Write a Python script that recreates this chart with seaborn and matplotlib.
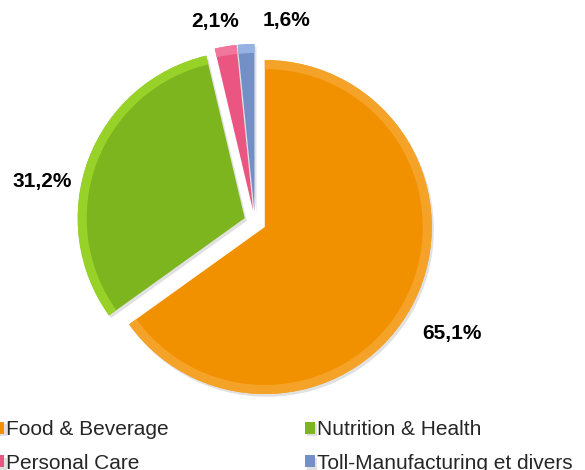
import matplotlib
matplotlib.use("Agg")
import matplotlib.pyplot as plt
import matplotlib.patheffects as pe
from matplotlib.patches import Wedge
import seaborn as sns

# data
categories = ["Food & Beverage", "Nutrition & Health", "Personal Care", "Toll-Manufacturing et divers"]
shares = [65.1, 31.2, 2.1, 1.6]
colors = ["#F29100", "#7DB51E", "#EA5581", "#7390C6"]
rims = ["#F6A630", "#9ED82C", "#F27CA2", "#9DB9E8"]

sns.set_theme(style="white")
plt.rcParams["font.family"] = ["Liberation Sans", "DejaVu Sans"]

fig = plt.figure(figsize=(5.85, 4.7), dpi=100)
ax = fig.add_axes([0, 0, 1, 1])

# axes are in pixel units, so explode is in pixels too
wedges, texts, pcts = ax.pie(
    shares, colors=colors, startangle=90, counterclock=False,
    explode=[11] * 4, radius=167, center=(255, 248),
    autopct=lambda p: f"{p:.1f}%".replace(".", ","), pctdistance=1.27,
    textprops=dict(fontsize=15, fontweight="bold", color="black"),
    wedgeprops=dict(linewidth=0),
)

# soft shadow + light outer band to hint at the bevel
for w, rim in zip(wedges, rims):
    w.set_path_effects([pe.SimplePatchShadow(offset=(1.5, -2), shadow_rgbFace="#888888", alpha=0.25), pe.Normal()])
    band = Wedge(w.center, w.r, w.theta1, w.theta2, width=9, facecolor=rim, linewidth=0, alpha=0.85)
    ax.add_patch(band)

# Excel moved a few labels ("best fit")
nudges = [(-2, -10), (-4, -38), (-3, -20), (43, -21)]
for t, (dx, dy) in zip(pcts, nudges):
    x, y = t.get_position()
    t.set_position((x + dx, y + dy))

# row-major order like the reference
order = [0, 2, 1, 3]
ax.legend([wedges[i] for i in order], [categories[i] for i in order],
          loc="upper left", bbox_to_anchor=(-6, 50),
          bbox_transform=ax.transData, ncol=2, frameon=False, fontsize=15,
          handlelength=0.5, handleheight=0.5, handletextpad=0.1,
          columnspacing=6.5, labelspacing=0.7, borderpad=0, borderaxespad=0)

ax.set_xlim(0, 585)
ax.set_ylim(0, 470)
ax.set_aspect("equal")
ax.axis("off")

fig.savefig("out.png", dpi=100)
